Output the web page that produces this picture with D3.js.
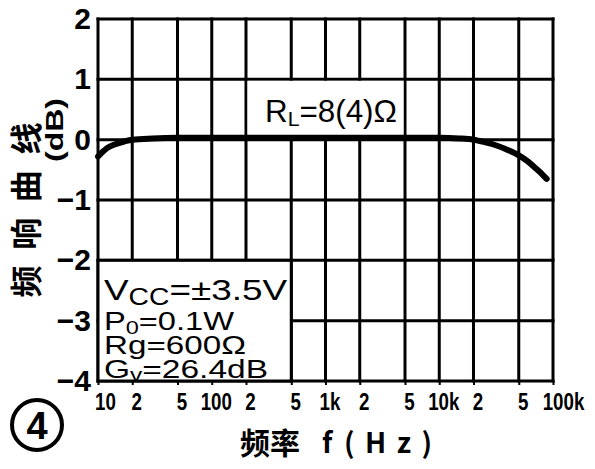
<!DOCTYPE html>
<html>
<head>
<meta charset="utf-8">
<script src="https://cdn.jsdelivr.net/npm/d3@7"></script>
<style>
  html, body { margin: 0; padding: 0; background: #fff; }
  svg { display: block; }
</style>
</head>
<body>
<script>
// ---- data ----
const freqs = [10, 11, 12, 14, 17, 20, 30, 50, 100, 1000, 10000, 15000, 20000, 25000, 30000, 40000, 50000, 60000, 70000, 80000, 88000];
const gains = [-0.28, -0.2, -0.14, -0.08, -0.03, 0, 0.02, 0.03, 0.03, 0.03, 0.03, 0.02, 0, -0.04, -0.08, -0.17, -0.26, -0.36, -0.47, -0.57, -0.65];
const xTicks = [10, 20, 50, 100, 200, 500, 1000, 2000, 5000, 10000, 20000, 50000, 100000];
const xTickLabels = ["10", "2", "5", "100", "2", "5", "1k", "2", "5", "10k", "2", "5", "100k"];
const yTicks = [-4, -3, -2, -1, 0, 1, 2];
const yTickLabels = ["\u22124", "\u22123", "\u22122", "\u22121", "0", "1", "2"];

const W = 595, H = 469;
const svg = d3.select("body").append("svg").attr("width", W).attr("height", H);
svg.append("rect").attr("width", W).attr("height", H).attr("fill", "#fff");

const x = d3.scaleLog().domain([10, 100000]).range([98, 553]);
const y = d3.scaleLinear().domain([-4, 2]).range([381, 19]);

const sans = "'Liberation Sans', Arial, sans-serif";
const cjk = "'Noto Sans CJK SC', 'Noto Sans', sans-serif";

// ---- grid ----
const grid = svg.append("g").attr("stroke", "#000").attr("stroke-width", 3).attr("stroke-linecap", "square");
grid.selectAll("line.v").data(xTicks).join("line").attr("class", "v")
  .attr("x1", d => x(d)).attr("x2", d => x(d)).attr("y1", y(2)).attr("y2", y(-4));
grid.selectAll("line.h").data(yTicks).join("line").attr("class", "h")
  .attr("x1", x(10)).attr("x2", x(100000)).attr("y1", d => y(d)).attr("y2", d => y(d));

// white cell behind RL label
svg.append("rect")
  .attr("x", x(200) + 1.5).attr("y", y(1) + 1.5)
  .attr("width", x(5000) - x(200) - 3).attr("height", y(0) - y(1) - 3)
  .attr("fill", "#fff");

// legend box
svg.append("rect")
  .attr("x", x(10)).attr("y", y(-2))
  .attr("width", x(500) - x(10)).attr("height", y(-4) - y(-2))
  .attr("fill", "#fff").attr("stroke", "#000").attr("stroke-width", 3);

// ---- axes ----
const yAxis = svg.append("g").attr("transform", `translate(${x(10)},0)`)
  .call(d3.axisLeft(y).tickValues(yTicks).tickFormat((d, i) => yTickLabels[i]).tickSize(0).tickPadding(7));
yAxis.select(".domain").remove();
yAxis.selectAll("text").attr("font-family", sans).attr("font-weight", "bold").attr("font-size", 30).attr("fill", "#000");

const xAxis = svg.append("g").attr("transform", `translate(0,${y(-4)})`)
  .call(d3.axisBottom(x).tickValues(xTicks).tickFormat((d, i) => xTickLabels[i]).tickSize(4).tickPadding(8));
xAxis.select(".domain").remove();
xAxis.selectAll("line").attr("stroke", "#000").attr("stroke-width", 2);
xAxis.selectAll("text").attr("font-family", sans).attr("font-weight", "bold").attr("font-size", 24).attr("fill", "#000")
  .attr("dx", (d, i) => i === 0 ? 7 : (i === xTicks.length - 1 ? 10 : 4))
  .each(function () {
    const len = this.getComputedTextLength();
    d3.select(this).attr("textLength", len * 0.78).attr("lengthAdjust", "spacingAndGlyphs");
  });

// ---- curve ----
const pts = freqs.map((f, i) => ({ f, g: gains[i] }));
svg.append("path").datum(pts)
  .attr("fill", "none").attr("stroke", "#000").attr("stroke-width", 6).attr("stroke-linecap", "round")
  .attr("d", d3.line().x(d => x(d.f)).y(d => y(d.g)).curve(d3.curveMonotoneX));

// ---- RL label ----
const rl = svg.append("text").attr("x", 265).attr("y", 122)
  .attr("font-family", sans).attr("font-size", 31).attr("fill", "#000")
  .attr("textLength", 132).attr("lengthAdjust", "spacingAndGlyphs");
rl.append("tspan").text("R");
rl.append("tspan").attr("font-size", 21).attr("dy", 4).text("L");
rl.append("tspan").attr("dy", -4).text("=8(4)Ω");

// ---- legend text ----
function legendLine(y0, main, subtxt, rest, size, subSize, len, shift) {
  const t = svg.append("text").attr("x", 104).attr("y", y0)
    .attr("font-family", sans).attr("font-size", size).attr("fill", "#000")
    .attr("textLength", len).attr("lengthAdjust", "spacingAndGlyphs");
  t.append("tspan").text(main);
  if (subtxt) {
    t.append("tspan").attr("font-size", subSize).attr("dy", shift).text(subtxt);
    t.append("tspan").attr("dy", -shift).text(rest);
  }
}
legendLine(300, "V", "CC", "=±3.5V", 30, 23, 183, 5);
legendLine(330, "P", "0", "=0.1W", 25, 18, 130, 4);
legendLine(354, "Rg=600Ω", null, null, 25, 18, 142, 0);
legendLine(378, "G", "v", "=26.4dB", 26, 19, 164, 3);

// ---- axis titles ----
svg.append("text").attr("x", 240).attr("y", 454)
  .attr("font-family", cjk).attr("font-weight", "bold").attr("font-size", 30).attr("fill", "#000")
  .text("频率");
svg.append("text").attr("x", 322).attr("y", 453)
  .attr("font-family", cjk).attr("font-weight", "bold").attr("font-size", 28).attr("fill", "#000")
  .text("f");
svg.append("text").attr("x", 344).attr("y", 453)
  .attr("font-family", cjk).attr("font-weight", "bold").attr("font-size", 28).attr("fill", "#000")
  .attr("textLength", 88).attr("lengthAdjust", "spacing")
  .text("(Hz)");

svg.append("text").attr("transform", "translate(24,210) rotate(-90)")
  .attr("text-anchor", "middle").attr("dominant-baseline", "central")
  .attr("font-family", cjk).attr("font-weight", "bold").attr("font-size", 32).attr("fill", "#000")
  .attr("textLength", 175).attr("lengthAdjust", "spacing")
  .text("频响曲线");

svg.append("text").attr("transform", "translate(54,130) rotate(-90)")
  .attr("text-anchor", "middle").attr("dominant-baseline", "central")
  .attr("font-family", sans).attr("font-weight", "bold").attr("font-size", 24).attr("fill", "#000")
  .attr("textLength", 64).attr("lengthAdjust", "spacingAndGlyphs")
  .text("(dB)");

// ---- circled number ----
svg.append("circle").attr("cx", 37).attr("cy", 425).attr("r", 25)
  .attr("fill", "none").attr("stroke", "#000").attr("stroke-width", 4);
svg.append("text").attr("x", 37).attr("y", 426)
  .attr("text-anchor", "middle").attr("dominant-baseline", "central")
  .attr("font-family", sans).attr("font-weight", "bold").attr("font-size", 38).attr("fill", "#000")
  .text("4");
</script>
</body>
</html>
